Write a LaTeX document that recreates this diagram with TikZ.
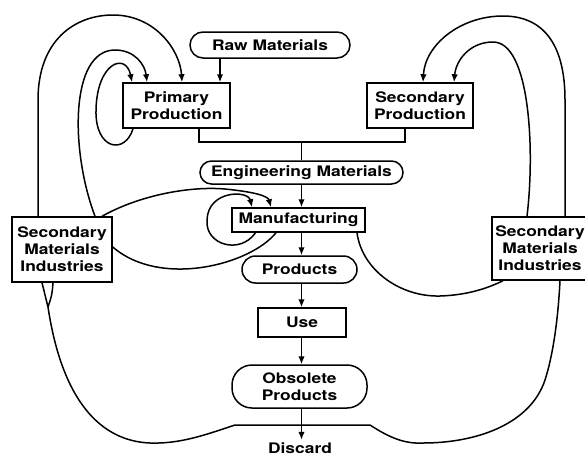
\documentclass[tikz,border=0pt]{standalone}
\usepackage{fontspec}
\usepackage{tikz}
\usetikzlibrary{arrows.meta, calc, positioning}
\newfontfamily\flowfont{TeX Gyre Heros}[FakeStretch=1.2]

\begin{document}
\begin{tikzpicture}[x=1pt, y=-1pt, line width=1.5pt,
	box/.style={draw, align=center, inner sep=0pt, font=\flowfont\bfseries\fontsize{14.5}{17}\selectfont},
	pill/.style={box},
	flow/.style={-{Latex[length=8pt,width=6.5pt]}}]
	\clip (0,0) rectangle (585,456);

	% main chain
	\node[pill, rounded corners=13pt, minimum width=160pt, minimum height=26pt] (raw) at (270,45) {Raw Materials};
	\node[box, minimum width=107pt, minimum height=45pt] (pp) at (176.5,105.5) {Primary\\Production};
	\node[box, minimum width=106pt, minimum height=45pt] (sp) at (420,105.5) {Secondary\\Production};
	\node[pill, rounded corners=11.5pt, minimum width=203pt, minimum height=23pt] (eng) at (301.5,172.5) {Engineering Materials};
	\node[box, minimum width=133pt, minimum height=24pt] (mfg) at (298.5,220) {Manufacturing};
	\node[pill, rounded corners=13.5pt, minimum width=115pt, minimum height=27pt] (prod) at (299.5,269.5) {Products};
	\node[box, minimum width=88pt, minimum height=29pt] (use) at (302,322.5) {Use};
	\node[pill, rounded corners=20pt, minimum width=135pt, minimum height=43pt] (obs) at (299.5,386.5) {Obsolete\\Products};
	\node[box, draw=none, inner sep=2pt] (discard) at (300,448) {Discard};

	% scrap side
	\node[box, minimum width=100pt, minimum height=65pt] (smil) at (62,249.5) {Secondary\\Materials\\Industries};
	\node[box, minimum width=96pt, minimum height=63pt] (smir) at (540,248.5) {Secondary\\Materials\\Industries};

	\coordinate (join) at (301.5,142);
	\coordinate (dl) at (235,425);
	\coordinate (dr) at (370,425);
	\coordinate (mergel) at (48,307);

	\draw[flow] ([xshift=-50pt]raw.south) -- ([xshift=-50pt]raw.south |- pp.north);
	\draw ([xshift=22.5pt]pp.south) |- (join) -| ([xshift=-15pt]sp.south);
	\draw (join) -- (eng.north -| join);
	\draw[flow] (eng.south) -- (eng.south |- mfg.north);
	\draw[flow] (mfg.south -| join) -- (prod.north -| join);
	\draw[flow] (prod.south -| join) -- (use.north -| join);
	\draw[flow] (use.south -| join) -- (obs.north -| join);
	\draw[flow] (obs.south -| join) -- (discard.north -| join);

	% loops back into primary production
	\draw[flow] ([xshift=-43.5pt]pp.south) .. controls (125,155) and (95,150) .. (96,110)
		.. controls (97,62) and (126,52) .. ([xshift=-44.5pt]pp.north);
	\draw[flow] ([xshift=33pt]smil.north) .. controls (70,150) and (70,50) .. (115,50)
		.. controls (135,50) and (145,65) .. ([xshift=-29.5pt]pp.north);
	\draw[flow] ([xshift=-24pt]smil.north) -- (38,100) .. controls (38,40) and (75,15) .. (113,15)
		.. controls (155,15) and (180,50) .. ([xshift=5.5pt]pp.north);

	% loops back into secondary production
	\draw[flow] ([xshift=25pt]smir.north) -- (565,100) .. controls (565,40) and (540,16) .. (503,16)
		.. controls (460,16) and (425,45) .. ([xshift=3pt]sp.north);
	\draw[flow] ([xshift=-13pt]smir.north) .. controls (535,150) and (530,42) .. (493,42)
		.. controls (470,42) and (456,60) .. ([xshift=34pt]sp.north);

	% manufacturing scrap
	\draw[flow] ([xshift=-43pt]mfg.south) .. controls (240,255) and (205,245) .. (207,220)
		.. controls (208,190) and (248,190) .. ([xshift=-46.5pt]mfg.north);
	\draw[flow] ([xshift=40pt]smil.north) .. controls (140,195) and (190,186) .. (225,189)
		.. controls (255,192) and (268,196) .. ([xshift=-27.5pt]mfg.north);
	\draw ([xshift=-22.5pt]mfg.south) .. controls (250,265) and (160,288) .. ([yshift=2.5pt]smil.east);
	\draw ([xshift=58.5pt]mfg.south) .. controls (362,270) and (400,297) .. (440,296)
		.. controls (470,295) and (490,287) .. ([xshift=-37pt]smir.south);

	% discard line
	\draw ([xshift=-20pt]smil.south) -- (mergel) .. controls (62,400) and (100,441) .. (150,443)
		.. controls (180,444) and (205,435) .. (dl) -- (dr)
		.. controls (390,438) and (405,444) .. (423,443)
		.. controls (475,443) and (530,425) .. (545,380)
		.. controls (553,355) and (558,320) .. ([xshift=20pt]smir.south);
	\draw ([xshift=-9pt]smil.south) .. controls (52,295) .. (mergel);
\end{tikzpicture}
\end{document}
